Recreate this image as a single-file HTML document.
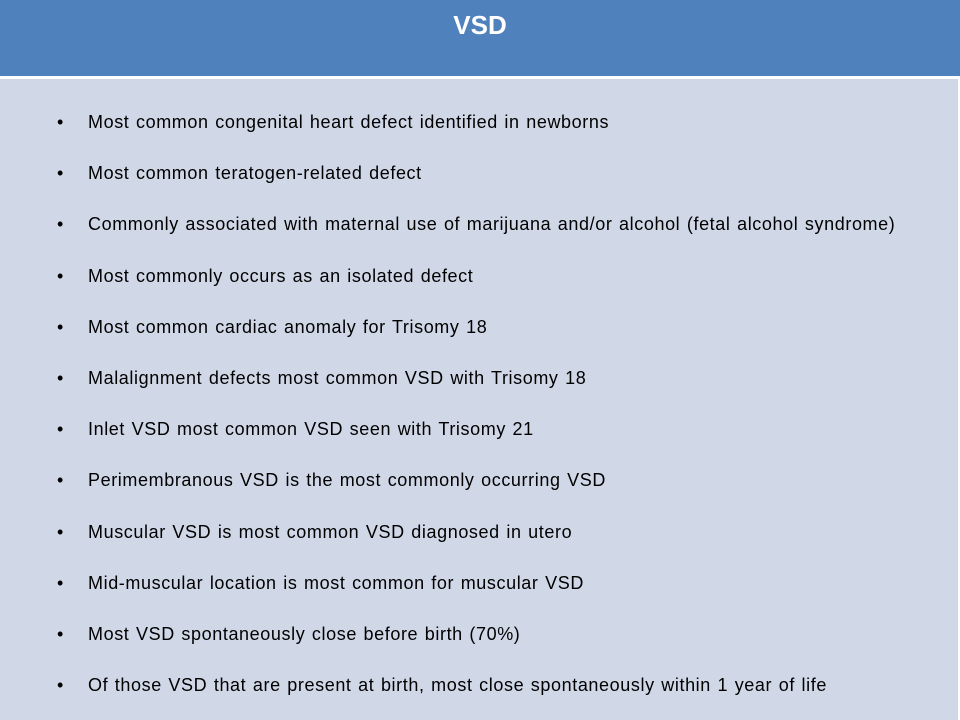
<!DOCTYPE html>
<html><head><meta charset="utf-8"><style>
html,body{margin:0;padding:0}
body{width:960px;height:720px;position:relative;overflow:hidden;background:#fff;font-family:"Liberation Sans",sans-serif}
.hdr{position:absolute;left:0;top:0;width:960px;height:76px;background:#4f81bd}
.hdr h1{margin:0;position:absolute;top:10px;width:100%;text-align:center;color:#fff;font-size:26px;font-weight:bold}
.body{position:absolute;left:0;top:79px;width:958px;height:641px;background:#d0d8e8}
.item{position:absolute;left:88px;font-size:18px;letter-spacing:0.6px;word-spacing:1px;color:#000;white-space:nowrap}
.bul{position:absolute;left:57px;font-size:18px;color:#000}
</style></head><body>
<div class="hdr"><h1>VSD</h1></div>
<div class="body"></div>
<div id="list"></div>
<script>
const items=["Most common congenital heart defect identified in newborns","Most common teratogen-related defect","Commonly associated with maternal use of marijuana and/or alcohol (fetal alcohol syndrome)","Most commonly occurs as an isolated defect","Most common cardiac anomaly for Trisomy 18","Malalignment defects most common VSD with Trisomy 18","Inlet VSD most common VSD seen with Trisomy 21","Perimembranous VSD is the most commonly occurring VSD","Muscular VSD is most common VSD diagnosed in utero","Mid-muscular location is most common for muscular VSD","Most VSD spontaneously close before birth (70%)","Of those VSD that are present at birth, most close spontaneously within 1 year of life"];
const list=document.getElementById('list');
items.forEach((t,i)=>{
  const y=112+i*51.2;
  const b=document.createElement('div');b.className='bul';b.textContent='•';b.style.top=y+'px';
  
  
  const d=document.createElement('div');d.className='item';d.textContent=t;d.style.top=y+'px';
  
  
  list.appendChild(b);list.appendChild(d);
});
</script>
</body></html>
